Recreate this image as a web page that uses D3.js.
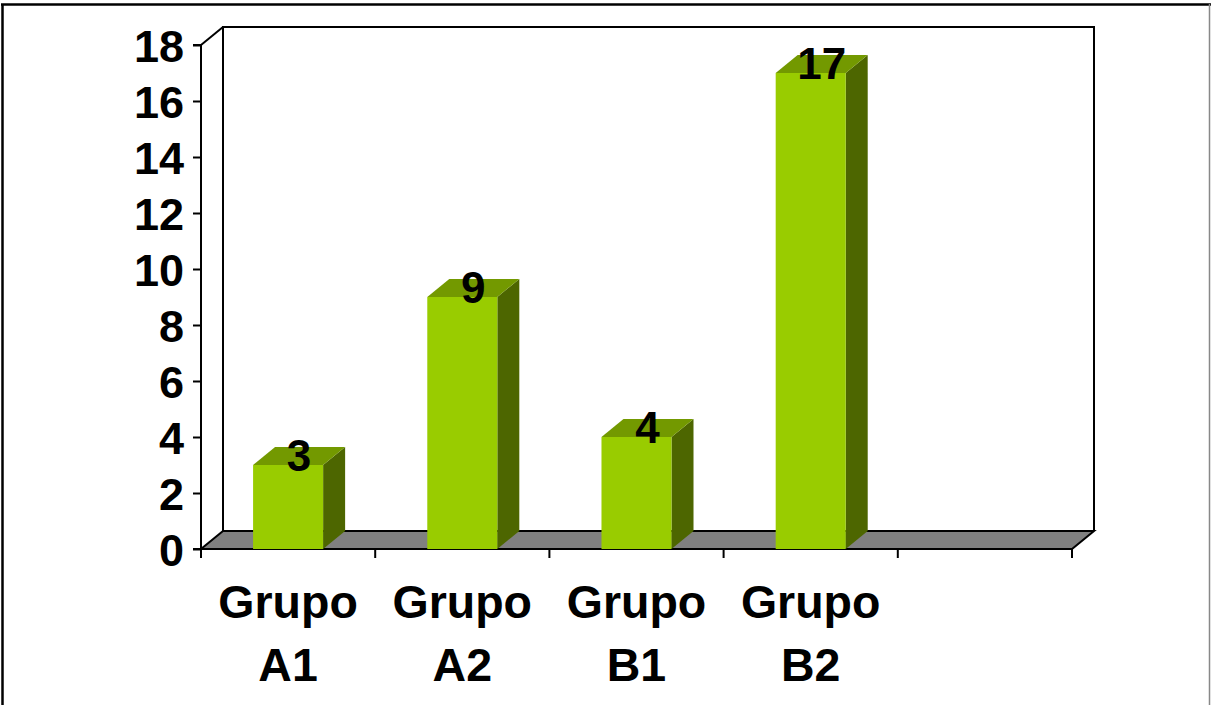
<!DOCTYPE html>
<html>
<head>
<meta charset="utf-8">
<script src="https://cdn.jsdelivr.net/npm/d3@7"></script>
<style>
  html, body { margin: 0; padding: 0; background: #fff; }
  svg { display: block; }
  text { font-family: Arial, "Liberation Sans", sans-serif; font-weight: bold; fill: #000; }
</style>
</head>
<body>
<svg id="chart" width="1211" height="705"></svg>
<script>
// Group names (two-line labels) and their counts; the last slot is left empty.
const categories = ["Grupo A1", "Grupo A2", "Grupo B1", "Grupo B2", ""];
const values = [3, 9, 4, 17, null];
const yTicks = [0, 2, 4, 6, 8, 10, 12, 14, 16, 18];

const W = 1211, H = 705;
const plotLeft = 201, plotRight = 1072, plotBottom = 549, plotTop = 45;
const dx = 22, dy = -18; // depth offset of the 3D box

const colors = { front: "#99CC00", top: "#739900", side: "#4D6600", floor: "#808080" };

const svg = d3.select("#chart");

// outer frame
svg.append("line").attr("x1", 1).attr("x2", W).attr("y1", 4.5).attr("y2", 4.5)
  .attr("stroke", "#000").attr("stroke-width", 2.5);
svg.append("line").attr("x1", 2.5).attr("x2", 2.5).attr("y1", 4).attr("y2", H)
  .attr("stroke", "#000").attr("stroke-width", 2.5);
svg.append("line").attr("x1", 1209.5).attr("x2", 1209.5).attr("y1", 4).attr("y2", H)
  .attr("stroke", "#888").attr("stroke-width", 1.5);

const x = d3.scaleBand().domain(categories).range([plotLeft, plotRight])
  .paddingInner(0.598).paddingOuter(0.299);
const y = d3.scaleLinear().domain([0, 18]).range([plotBottom, plotTop]);

const g = svg.append("g");

// back wall outline
g.append("path")
  .attr("d", `M${plotLeft + dx},${y(0) + dy} V${y(18) + dy} H${plotRight + dx} V${y(0) + dy}`)
  .attr("fill", "none").attr("stroke", "#000").attr("stroke-width", 2);

// floor
g.append("path")
  .attr("d", `M${plotLeft},${y(0)} L${plotRight},${y(0)} L${plotRight + dx},${y(0) + dy} L${plotLeft + dx},${y(0) + dy} Z`)
  .attr("fill", colors.floor).attr("stroke", "#000").attr("stroke-width", 2);

// side wall top edge
g.append("line").attr("x1", plotLeft).attr("y1", y(18)).attr("x2", plotLeft + dx).attr("y2", y(18) + dy)
  .attr("stroke", "#000").attr("stroke-width", 2);

// y axis
const yAxis = d3.axisLeft(y).tickValues(yTicks).tickSize(8).tickPadding(9).tickFormat(d3.format("d"));
const ya = g.append("g").attr("transform", `translate(${plotLeft},0)`).call(yAxis);
ya.select(".domain").attr("stroke", "#000").attr("stroke-width", 2).attr("d", `M-8,${plotTop}H0V${plotBottom}H-8`);
ya.selectAll(".tick line").attr("stroke", "#000").attr("stroke-width", 2);
ya.selectAll(".tick text").style("font-size", "45px").attr("dy", "0.36em")
  .style("font-family", "Arial, 'Liberation Sans', sans-serif").style("font-weight", "bold");

// x axis: ticks at slot boundaries
const bounds = categories.map(c => x(c) - x.step() * x.paddingInner() / 2).concat([plotRight]);
g.append("line").attr("x1", plotLeft).attr("x2", plotRight).attr("y1", plotBottom).attr("y2", plotBottom)
  .attr("stroke", "#000").attr("stroke-width", 2);
g.selectAll(".xtick").data(bounds).join("line").attr("class", "xtick")
  .attr("x1", d => d).attr("x2", d => d).attr("y1", plotBottom).attr("y2", plotBottom + 9)
  .attr("stroke", "#000").attr("stroke-width", 2);

// category labels, two lines each
const xl = g.selectAll(".xlabel").data(categories.filter(c => c)).join("text").attr("class", "xlabel")
  .attr("text-anchor", "middle").style("font-size", "46.5px");
xl.each(function (d) {
  const parts = d.split(" ");
  const cx = x(d) + x.bandwidth() / 2;
  const t = d3.select(this);
  t.append("tspan").attr("x", cx).attr("y", 618).text(parts[0]);
  t.append("tspan").attr("x", cx).attr("y", 681).text(parts[1]);
});

// 3D bars
const data = categories.map((c, i) => ({ c, v: values[i] })).filter(d => d.v != null);
const bars = g.selectAll(".bar").data(data).join("g").attr("class", "bar");
bars.append("path") // side face
  .attr("d", d => {
    const x1 = x(d.c) + x.bandwidth();
    return `M${x1},${y(0)} L${x1 + dx},${y(0) + dy} L${x1 + dx},${y(d.v) + dy} L${x1},${y(d.v)} Z`;
  })
  .attr("fill", colors.side);
bars.append("path") // top face
  .attr("d", d => {
    const x0 = x(d.c), x1 = x0 + x.bandwidth(), yt = y(d.v);
    return `M${x0},${yt} L${x0 + dx},${yt + dy} L${x1 + dx},${yt + dy} L${x1},${yt} Z`;
  })
  .attr("fill", colors.top);
bars.append("rect") // front face
  .attr("x", d => x(d.c)).attr("y", d => y(d.v))
  .attr("width", x.bandwidth()).attr("height", d => y(0) - y(d.v))
  .attr("fill", colors.front);

// value labels
g.selectAll(".vlabel").data(data).join("text").attr("class", "vlabel")
  .attr("text-anchor", "middle")
  .attr("x", d => x(d.c) + x.bandwidth() / 2 + dx / 2)
  .attr("y", d => y(d.v) + 6)
  .style("font-size", "44px")
  .text(d => d.v);
</script>
</body>
</html>
